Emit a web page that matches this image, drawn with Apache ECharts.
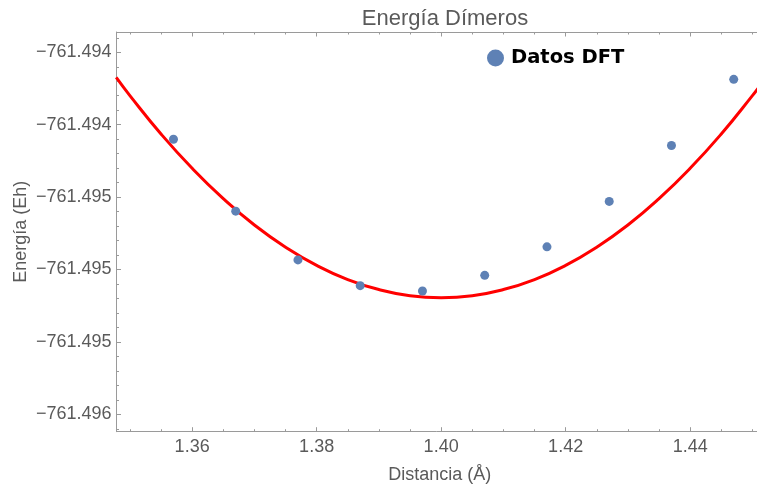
<!DOCTYPE html>
<html><head><meta charset="utf-8">
<script src="https://cdn.jsdelivr.net/npm/echarts@6/dist/echarts.min.js"></script>
<style>html,body{margin:0;padding:0;background:#fff}#c{width:757px;height:489px}</style>
</head><body><div id="c"></div>
<script>
// DFT data points
const distancia = [1.357, 1.367, 1.377, 1.387, 1.397, 1.407, 1.417, 1.427, 1.437, 1.447];
const energia = [-761.4945502, -761.4947985, -761.4949668, -761.4950557, -761.4950741,
                 -761.4950201, -761.4949217, -761.4947649, -761.4945720, -761.4943435];
// fitted curve
const fitX = [1.3478, 1.35, 1.355, 1.36, 1.365, 1.37, 1.375, 1.38, 1.385, 1.39, 1.395, 1.40,
              1.405, 1.41, 1.415, 1.42, 1.425, 1.43, 1.435, 1.44, 1.445, 1.45, 1.4517];
const fitY = [-761.4943369, -761.4943996, -761.4945322, -761.4946506, -761.4947552, -761.4948463,
              -761.4949228, -761.4949858, -761.4950346, -761.4950693, -761.4950904, -761.4950973,
              -761.4950904, -761.4950693, -761.4950346, -761.4949858, -761.4949228, -761.4948463,
              -761.4947552, -761.4946506, -761.4945322, -761.4943996, -761.4943511];
// ticks
const xTicks = [1.36, 1.38, 1.40, 1.42, 1.44];
const xTickLabels = ['1.36', '1.38', '1.40', '1.42', '1.44'];
const xMinorTicks = [1.35, 1.355, 1.365, 1.37, 1.375, 1.385, 1.39, 1.395, 1.405, 1.41, 1.415,
                     1.425, 1.43, 1.435, 1.445, 1.45];
const yTicks = [-761.49425, -761.4945, -761.49475, -761.4950, -761.49525, -761.4955];
const yTickLabels = ['\u2212761.494', '\u2212761.494', '\u2212761.495', '\u2212761.495', '\u2212761.495', '\u2212761.496'];
const yMinorTicks = [-761.4942, -761.4943, -761.49435, -761.4944, -761.49445, -761.49455, -761.4946,
                     -761.49465, -761.4947, -761.4948, -761.49485, -761.4949, -761.49495, -761.49505,
                     -761.4951, -761.49515, -761.4952, -761.4953, -761.49535, -761.4954, -761.49545,
                     -761.49555];

const X_MIN = 1.34785, X_MAX = 1.45074, Y_MIN = -761.49556, Y_MAX = -761.49418;
const frameColor = '#9a9a9a', textColor = '#5a5a5a', font = 'Liberation Sans';

function nearestLabel(v, ticks, labels) {
  let bi = 0, bd = Infinity;
  ticks.forEach((t, i) => { const d = Math.abs(t - v); if (d < bd) { bd = d; bi = i; } });
  return labels[bi];
}

const gridBox = { left: 116.5, right: 0, top: 32, bottom: 57.3 };
const chart = echarts.init(document.getElementById('c'), null, { renderer: 'canvas' });
chart.setOption({
  animation: false,
  title: {
    text: 'Energía Dímeros', left: 440, textAlign: 'center', top: 3,
    textStyle: { fontFamily: font, fontSize: 22, fontWeight: 'normal', color: textColor }
  },
  legend: {
    data: ['Datos DFT'], left: 482, top: 43, icon: 'circle', itemWidth: 17, itemHeight: 17,
    textStyle: { fontFamily: 'DejaVu Sans', fontWeight: 'bold', fontSize: 19.5, color: '#000', padding: [0, 0, 0, 2] }
  },
  grid: [Object.assign({}, gridBox), Object.assign({}, gridBox)],
  xAxis: [
    { type: 'value', gridIndex: 0, position: 'bottom', min: X_MIN, max: X_MAX,
      name: 'Distancia (Å)', nameLocation: 'middle', nameGap: 34, nameMoveOverlap: false,
      nameTextStyle: { fontFamily: font, fontSize: 18, color: textColor, padding: [0, 0, 0, 6] },
      axisLine: { onZero: false, lineStyle: { color: frameColor, width: 1 } },
      axisTick: { inside: true, length: 4.5, customValues: xTicks, lineStyle: { color: frameColor } },
      axisLabel: { customValues: xTicks, margin: 6, fontFamily: font, fontSize: 18, color: textColor,
        formatter: v => nearestLabel(v, xTicks, xTickLabels) },
      splitLine: { show: false } },
    { type: 'value', gridIndex: 0, position: 'top', min: X_MIN, max: X_MAX,
      axisLine: { onZero: false, lineStyle: { color: frameColor, width: 1 } },
      axisTick: { inside: true, length: 4.5, customValues: xTicks, lineStyle: { color: frameColor } },
      axisLabel: { show: false }, splitLine: { show: false } },
    { type: 'value', gridIndex: 1, position: 'bottom', min: X_MIN, max: X_MAX,
      axisLine: { show: false, onZero: false },
      axisTick: { inside: true, length: 2.5, customValues: xMinorTicks, lineStyle: { color: frameColor } },
      axisLabel: { show: false }, splitLine: { show: false } },
    { type: 'value', gridIndex: 1, position: 'top', min: X_MIN, max: X_MAX,
      axisLine: { show: false, onZero: false },
      axisTick: { inside: true, length: 2.5, customValues: xMinorTicks, lineStyle: { color: frameColor } },
      axisLabel: { show: false }, splitLine: { show: false } }
  ],
  yAxis: [
    { type: 'value', gridIndex: 0, position: 'left', min: Y_MIN, max: Y_MAX, scale: true,
      name: 'Energía (Eh)', nameLocation: 'middle', nameGap: 86, nameRotate: 90, nameMoveOverlap: false,
      nameTextStyle: { fontFamily: font, fontSize: 18, color: textColor },
      axisLine: { show: true, onZero: false, lineStyle: { color: frameColor, width: 1 } },
      axisTick: { show: true, inside: true, length: 4.5, customValues: yTicks, lineStyle: { color: frameColor } },
      axisLabel: { customValues: yTicks, margin: 5, fontFamily: font, fontSize: 18, color: textColor,
        formatter: v => nearestLabel(v, yTicks, yTickLabels) },
      splitLine: { show: false } },
    { type: 'value', gridIndex: 1, position: 'left', min: Y_MIN, max: Y_MAX, scale: true,
      axisLine: { show: false, onZero: false },
      axisTick: { show: true, inside: true, length: 2.5, customValues: yMinorTicks, lineStyle: { color: frameColor } },
      axisLabel: { show: false }, splitLine: { show: false } }
  ],
  series: [
    { name: 'Ajuste', type: 'line', xAxisIndex: 0, yAxisIndex: 0, smooth: true, showSymbol: false,
      clip: true, lineStyle: { color: '#ff0000', width: 3 }, z: 2,
      data: fitX.map((x, i) => [x, fitY[i]]) },
    { name: 'Datos DFT', type: 'scatter', xAxisIndex: 0, yAxisIndex: 0, symbolSize: 9, z: 3,
      itemStyle: { color: '#5e81b5', opacity: 1 },
      data: distancia.map((x, i) => [x, energia[i]]) }
  ]
});
</script></body></html>
